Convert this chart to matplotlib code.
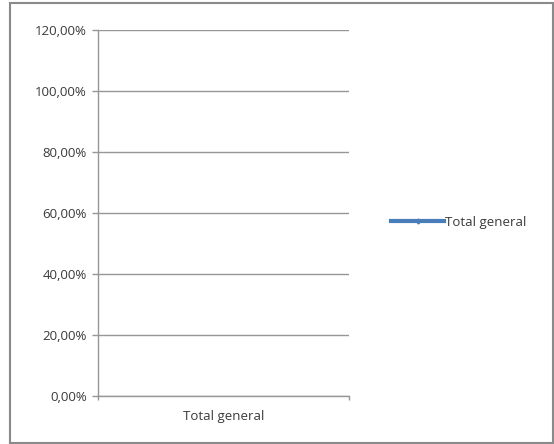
import matplotlib
matplotlib.use("Agg")
import matplotlib.pyplot as plt
from matplotlib.lines import Line2D
from matplotlib.patches import Rectangle
from matplotlib.ticker import FuncFormatter

categories = ["Total general"]
values = [1.0]
series_name = "Total general"
y_ticks = [0.0, 0.2, 0.4, 0.6, 0.8, 1.0, 1.2]

plt.rcParams['font.family'] = ['Open Sans', 'DejaVu Sans']
W, H = 554, 444
fig = plt.figure(figsize=(W / 100, H / 100), dpi=100)
fig.patch.set_facecolor("white")

ax = fig.add_axes([98 / W, 1 - 396 / H, (349 - 98) / W, (396 - 30) / H])
line_color = "#4a7ebb"
text_c = "#3a3a3a"
x = list(range(len(categories)))
ax.plot(x, values, color=line_color, lw=2.5, marker="none")
ax.set_xlim(-0.5, len(categories) - 0.5)
ax.set_ylim(0, 1.2)
ax.set_yticks(y_ticks)
ax.yaxis.set_major_formatter(FuncFormatter(lambda v, p: f"{v*100:.2f}%".replace(".", ",")))
ax.set_xticks(x)
ax.set_xticklabels(categories)
ax.set_xticks([-0.5, len(categories) - 0.5], minor=True)

grid_c = "#969696"
ax.grid(axis="y", color=grid_c, lw=1.0)
ax.set_axisbelow(True)
for s in ["top", "right"]:
    ax.spines[s].set_visible(False)
ax.spines["left"].set_color(grid_c)
ax.spines["bottom"].set_color(grid_c)
ax.spines["left"].set_linewidth(1.0)
ax.spines["bottom"].set_linewidth(1.0)
ax.tick_params(axis="y", length=4.5, color=grid_c, width=1.0, labelsize=9.5, labelcolor=text_c, pad=3.5)
ax.tick_params(axis="x", which="major", length=0, labelsize=9.5, labelcolor=text_c, pad=10)
ax.tick_params(axis="x", which="minor", length=3, color=grid_c, width=1.0)

handle = Line2D([], [], color=line_color, lw=3, marker="D", markersize=2.5)
fig.legend([handle], [series_name], loc="center left", bbox_to_anchor=(386 / W, 1 - 222 / H),
           frameon=False, fontsize=9.5, labelcolor=text_c, handlelength=4.0, handletextpad=0.05,
           borderaxespad=0)

fig.add_artist(Rectangle((9.5 / W, 1.5 / H), (552 - 9) / W, (441 - 2) / H, transform=fig.transFigure,
                         fill=False, edgecolor="#8a8a8a", lw=1.5))

fig.savefig("out.png", dpi=100)
